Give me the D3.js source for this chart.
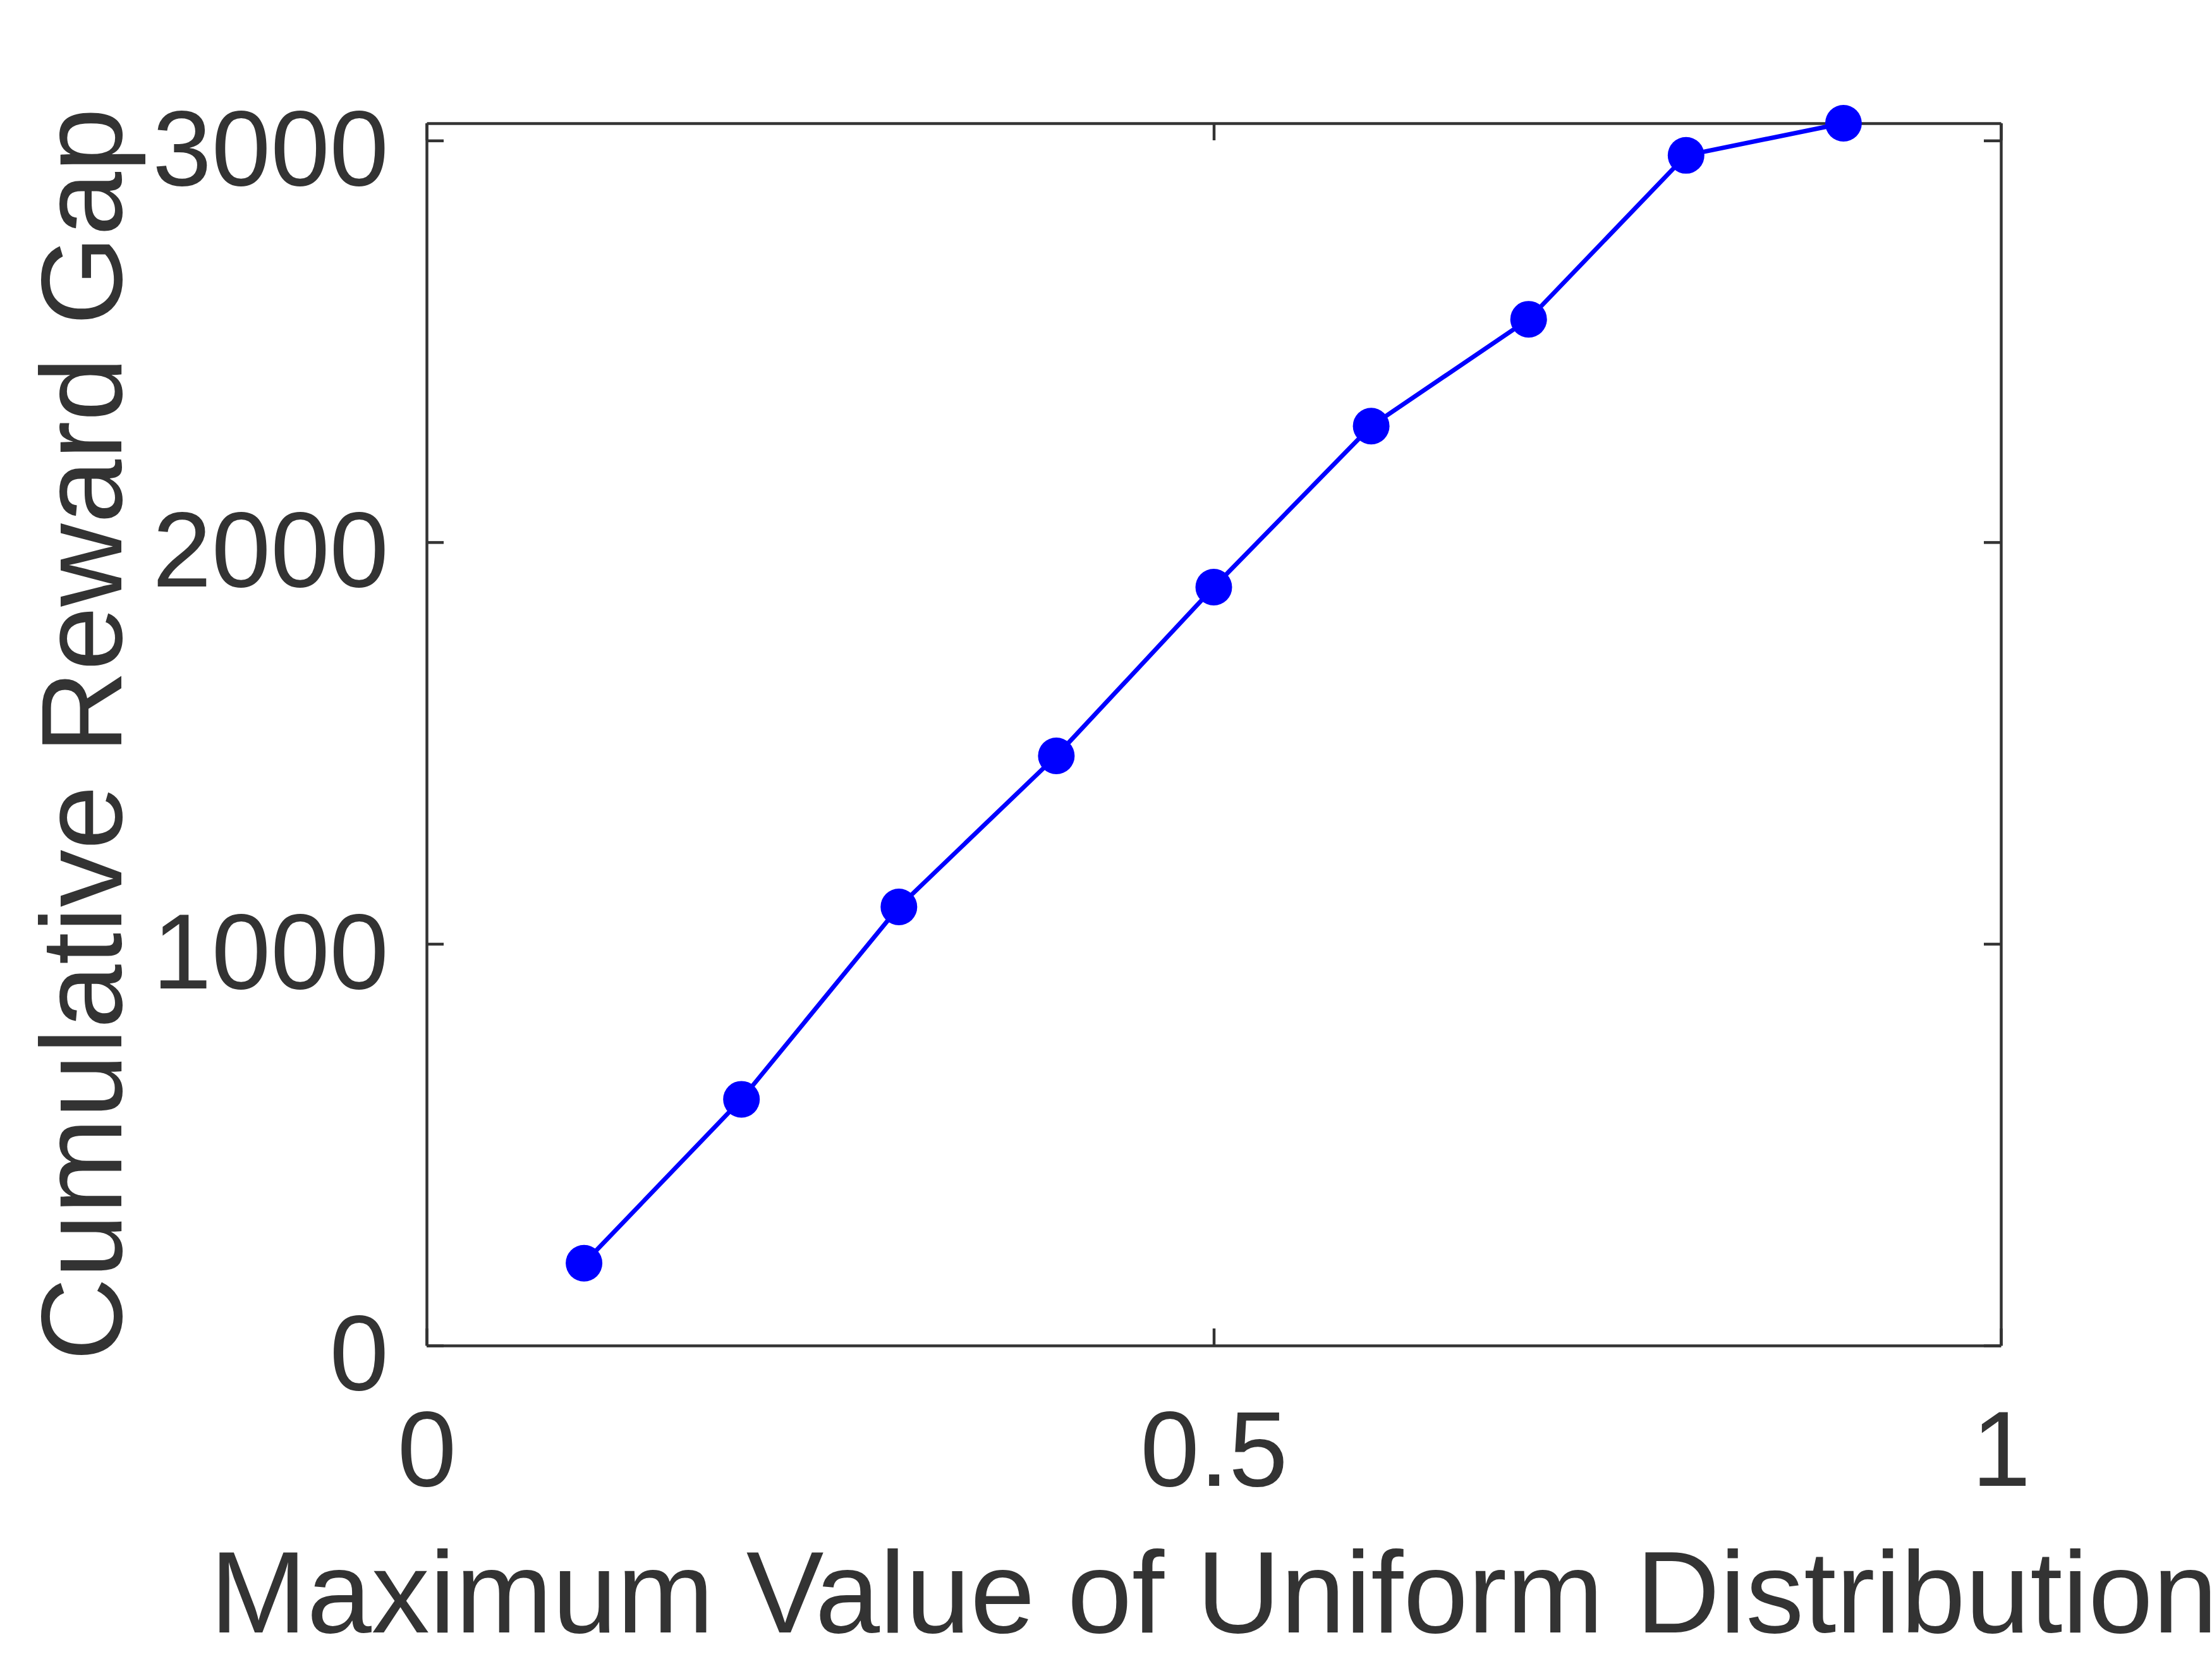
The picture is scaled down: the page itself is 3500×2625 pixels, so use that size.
<!DOCTYPE html>
<html><head><meta charset="utf-8">
<script src="https://cdn.jsdelivr.net/npm/d3@7"></script>
<style>body{margin:0;background:#fff}svg{display:block}</style>
</head><body>
<svg id="chart" width="3500" height="2625"></svg>
<script>
// ---- data ----
const maxValues = [0.1, 0.2, 0.3, 0.4, 0.5, 0.6, 0.7, 0.8, 0.9];
const rewardGap = [205, 613, 1092, 1468, 1888, 2289, 2555, 2963, 3043];
const xTicks = [0, 0.5, 1];
const xTickLabels = ["0", "0.5", "1"];
const yTicks = [0, 1000, 2000, 3000];
const yTickLabels = ["0", "1000", "2000", "3000"];
const xLabel = "Maximum Value of Uniform Distribution";
const yLabel = "Cumulative Reward Gap";

// ---- layout ----
const L = 675, R = 3166, T = 195, B = 2129;
const axisColor = "#333333";
const fontFam = "'Liberation Sans', Arial, Helvetica, sans-serif";

const svg = d3.select("#chart");
svg.append("rect").attr("width", 3500).attr("height", 2625).attr("fill", "#fff");

const x = d3.scaleLinear().domain([0, 1]).range([L, R]);
const y = d3.scaleLinear().domain([0, d3.max(rewardGap)]).range([B, T]);

function styleAxis(g) {
  g.selectAll("path.domain").attr("stroke", axisColor).attr("stroke-width", 4.5);
  g.selectAll(".tick line").attr("stroke", axisColor).attr("stroke-width", 4.5);
  g.selectAll(".tick text").attr("fill", axisColor)
    .style("font-family", fontFam).style("font-size", "168px");
}

// bottom
const gB = svg.append("g").attr("transform", `translate(0,${B})`)
  .call(d3.axisBottom(x).tickValues(xTicks)
    .tickFormat((d, i) => xTickLabels[i]).tickSizeInner(-27).tickSizeOuter(0).tickPadding(100));
styleAxis(gB);
gB.selectAll(".tick text").attr("dy", "0.725em");

// top
const gT = svg.append("g").attr("transform", `translate(0,${T})`)
  .call(d3.axisTop(x).tickValues(xTicks).tickFormat("").tickSizeInner(-27).tickSizeOuter(0));
styleAxis(gT);

// left
const gL = svg.append("g").attr("transform", `translate(${L},0)`)
  .call(d3.axisLeft(y).tickValues(yTicks)
    .tickFormat((d, i) => yTickLabels[i]).tickSizeInner(-27).tickSizeOuter(0).tickPadding(60));
styleAxis(gL);
gL.selectAll(".tick text").attr("dy", "0.415em");

// right
const gR = svg.append("g").attr("transform", `translate(${R},0)`)
  .call(d3.axisRight(y).tickValues(yTicks).tickFormat("").tickSizeInner(-27).tickSizeOuter(0));
styleAxis(gR);

// axis labels
svg.append("text")
  .attr("x", (L + R) / 2).attr("y", 2583)
  .attr("text-anchor", "middle")
  .attr("fill", axisColor)
  .style("font-family", fontFam).style("font-size", "184px")
  .text(xLabel);

svg.append("text")
  .attr("transform", `translate(192,${(T + B) / 2}) rotate(-90)`)
  .attr("text-anchor", "middle")
  .attr("fill", axisColor)
  .style("font-family", fontFam).style("font-size", "182px")
  .text(yLabel);

// series
const data = maxValues.map((v, i) => ({ x: v, y: rewardGap[i] }));
const line = d3.line().x(d => x(d.x)).y(d => y(d.y));
svg.append("path").datum(data)
  .attr("d", line)
  .attr("fill", "none")
  .attr("stroke", "#0000ff")
  .attr("stroke-width", 7)
  .attr("stroke-linejoin", "round");

svg.append("g").selectAll("circle").data(data).join("circle")
  .attr("cx", d => x(d.x)).attr("cy", d => y(d.y))
  .attr("r", 29).attr("fill", "#0000ff");
</script>
</body></html>
